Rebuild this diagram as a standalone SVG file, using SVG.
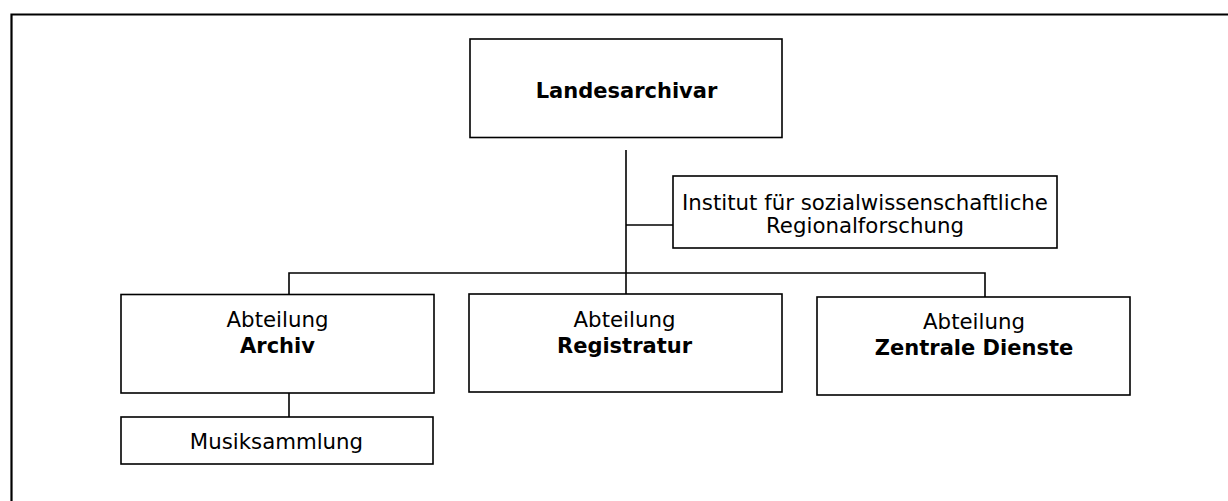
<svg xmlns="http://www.w3.org/2000/svg" width="1228" height="501" viewBox="0 0 1228 501">
<style>
.box{fill:#fff;stroke:#000;stroke-width:1.6}
.ln{fill:none;stroke:#000;stroke-width:1.6}
.frame{fill:none;stroke:#000;stroke-width:2.2}
text{font-family:"DejaVu Sans","Verdana",sans-serif;font-size:21.3px;fill:#000;text-anchor:middle}
.b{font-weight:bold;font-size:21px}
</style>
<rect width="1228" height="501" fill="#fff"/>
<path class="frame" d="M11.5,501 V14.5 H1228"/>
<g id="connectors">
<path class="ln" d="M626,150 V294"/>
<path class="ln" d="M626,225 H673"/>
<path class="ln" d="M289,295 V273 H985 V297"/>
<path class="ln" d="M289,393 V417"/>
</g>
<g id="landesarchivar">
<rect class="box" x="470" y="39" width="312" height="98.5"/>
<text class="b" x="626.5" y="98">Landesarchivar</text>
</g>
<g id="institut">
<rect class="box" x="673" y="176" width="384" height="72"/>
<text x="865" y="210">Institut für sozialwissenschaftliche</text>
<text x="865" y="233">Regionalforschung</text>
</g>
<g id="archiv">
<rect class="box" x="121" y="294.5" width="313" height="98.5"/>
<text x="277.5" y="327">Abteilung</text>
<text class="b" x="277.5" y="353">Archiv</text>
</g>
<g id="musiksammlung">
<rect class="box" x="121" y="417" width="312" height="47"/>
<text x="276.5" y="449">Musiksammlung</text>
</g>
<g id="registratur">
<rect class="box" x="469" y="294" width="313" height="98"/>
<text x="624.5" y="327">Abteilung</text>
<text class="b" x="624.5" y="353">Registratur</text>
</g>
<g id="zentrale">
<rect class="box" x="817" y="297" width="313" height="98"/>
<text x="974" y="329">Abteilung</text>
<text class="b" x="974" y="355">Zentrale Dienste</text>
</g>
</svg>
